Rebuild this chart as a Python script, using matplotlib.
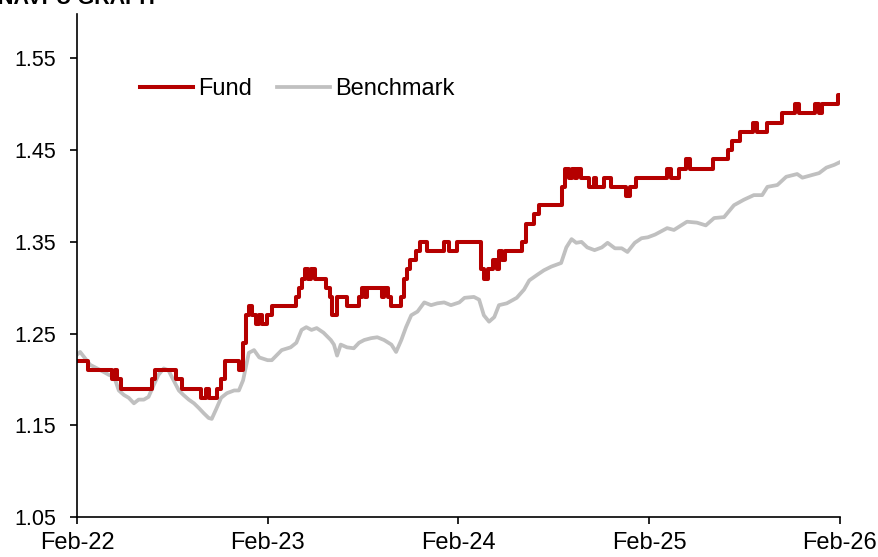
import numpy as np
import pandas as pd
import matplotlib.pyplot as plt
import matplotlib.dates as mdates

plt.rcParams['font.family'] = ['Liberation Sans', 'DejaVu Sans']
plt.rcParams['font.size'] = 17

# Fund NAVPU (stepwise, 2 decimals)
fund_dates = ["2022-02-01", "2022-02-22", "2022-04-09", "2022-04-14", "2022-04-19", "2022-04-26",
              "2022-06-24", "2022-06-30", "2022-08-09", "2022-08-21", "2022-09-27", "2022-10-06",
              "2022-10-12", "2022-10-27", "2022-11-04", "2022-11-12", "2022-12-08", "2022-12-16",
              "2022-12-22", "2022-12-27", "2023-01-02", "2023-01-10", "2023-01-16", "2023-01-22",
              "2023-01-30", "2023-02-09", "2023-03-27", "2023-04-02", "2023-04-07", "2023-04-13",
              "2023-04-19", "2023-04-25", "2023-05-03", "2023-05-24", "2023-05-31", "2023-06-04",
              "2023-06-14", "2023-07-03", "2023-07-26", "2023-08-01", "2023-08-07", "2023-08-11",
              "2023-09-08", "2023-09-12", "2023-09-20", "2023-09-26", "2023-10-15", "2023-10-20",
              "2023-10-26", "2023-11-01", "2023-11-12", "2023-11-20", "2023-12-03", "2024-01-05",
              "2024-01-15", "2024-01-30", "2024-03-15", "2024-03-21", "2024-03-29", "2024-04-08",
              "2024-04-16", "2024-04-19", "2024-04-25", "2024-05-01", "2024-06-03", "2024-06-10",
              "2024-06-26", "2024-07-05", "2024-08-18", "2024-08-24", "2024-09-01", "2024-09-05",
              "2024-09-12", "2024-09-16", "2024-09-24", "2024-10-09", "2024-10-17", "2024-10-21",
              "2024-11-07", "2024-11-20", "2024-12-19", "2024-12-25", "2025-01-07", "2025-03-07",
              "2025-03-15", "2025-03-30", "2025-04-13", "2025-04-19", "2025-06-02", "2025-07-01",
              "2025-07-10", "2025-07-24", "2025-08-18", "2025-08-27", "2025-09-14", "2025-10-13",
              "2025-11-07", "2025-11-15", "2025-12-16", "2025-12-23", "2025-12-29", "2026-01-28",
              "2026-02-01"]
fund_values = [1.22, 1.21, 1.20, 1.21, 1.20, 1.19,
               1.20, 1.21, 1.20, 1.19, 1.18, 1.19,
               1.18, 1.19, 1.20, 1.22, 1.21, 1.24,
               1.27, 1.28, 1.27, 1.26, 1.27, 1.26,
               1.27, 1.28, 1.29, 1.30, 1.31, 1.32,
               1.31, 1.32, 1.31, 1.30, 1.29, 1.27,
               1.29, 1.28, 1.29, 1.30, 1.29, 1.30,
               1.29, 1.30, 1.29, 1.28, 1.29, 1.31,
               1.32, 1.33, 1.34, 1.35, 1.34, 1.35,
               1.34, 1.35, 1.32, 1.31, 1.32, 1.33,
               1.32, 1.34, 1.33, 1.34, 1.35, 1.37,
               1.38, 1.39, 1.41, 1.43, 1.42, 1.43,
               1.42, 1.43, 1.42, 1.41, 1.42, 1.41,
               1.42, 1.41, 1.40, 1.41, 1.42, 1.43,
               1.42, 1.43, 1.44, 1.43, 1.44, 1.45,
               1.46, 1.47, 1.48, 1.47, 1.48, 1.49,
               1.50, 1.49, 1.50, 1.49, 1.50, 1.51,
               1.51]

# Benchmark
bench_dates = ["2022-02-01", "2022-02-07", "2022-02-26", "2022-03-15", "2022-04-03", "2022-04-13",
               "2022-04-22", "2022-05-02", "2022-05-11", "2022-05-21", "2022-05-30", "2022-06-09",
               "2022-06-18", "2022-06-28", "2022-07-07", "2022-07-17", "2022-07-26", "2022-08-05",
               "2022-08-15", "2022-08-24", "2022-09-03", "2022-09-13", "2022-09-22", "2022-10-02",
               "2022-10-11", "2022-10-17", "2022-10-25", "2022-11-04", "2022-11-15", "2022-11-29",
               "2022-12-08", "2022-12-16", "2022-12-27", "2023-01-06", "2023-01-16", "2023-02-01",
               "2023-02-09", "2023-02-28", "2023-03-17", "2023-03-28", "2023-04-07", "2023-04-16",
               "2023-04-26", "2023-05-06", "2023-05-19", "2023-06-02", "2023-06-08", "2023-06-14",
               "2023-06-21", "2023-07-03", "2023-07-16", "2023-07-26", "2023-08-05", "2023-08-18",
               "2023-08-30", "2023-09-12", "2023-09-26", "2023-10-05", "2023-10-15", "2023-10-24",
               "2023-11-03", "2023-11-15", "2023-11-28", "2023-12-11", "2023-12-23", "2024-01-05",
               "2024-01-18", "2024-02-03", "2024-02-13", "2024-03-02", "2024-03-12", "2024-03-21",
               "2024-03-31", "2024-04-10", "2024-04-19", "2024-05-04", "2024-05-23", "2024-06-06",
               "2024-06-16", "2024-07-01", "2024-07-14", "2024-07-28", "2024-08-16", "2024-08-26",
               "2024-09-05", "2024-09-14", "2024-09-24", "2024-10-05", "2024-10-19", "2024-11-02",
               "2024-11-13", "2024-11-27", "2024-12-10", "2024-12-21", "2025-01-04", "2025-01-17",
               "2025-01-29", "2025-02-12", "2025-03-07", "2025-03-20", "2025-04-14", "2025-05-03",
               "2025-05-20", "2025-06-05", "2025-06-24", "2025-07-13", "2025-08-01", "2025-08-20",
               "2025-09-05", "2025-09-15", "2025-10-04", "2025-10-21", "2025-11-11", "2025-11-21",
               "2025-12-10", "2025-12-23", "2026-01-06", "2026-01-21", "2026-02-01"]
bench_values = [1.227, 1.230, 1.216, 1.211, 1.205, 1.203,
                1.188, 1.183, 1.180, 1.174, 1.178, 1.178,
                1.181, 1.194, 1.205, 1.212, 1.210, 1.199,
                1.188, 1.183, 1.178, 1.174, 1.169, 1.163,
                1.158, 1.157, 1.167, 1.180, 1.185, 1.188,
                1.188, 1.199, 1.229, 1.232, 1.224, 1.221,
                1.221, 1.232, 1.235, 1.240, 1.254, 1.257,
                1.254, 1.256, 1.251, 1.243, 1.238, 1.226,
                1.238, 1.235, 1.234, 1.240, 1.243, 1.245,
                1.246, 1.243, 1.238, 1.230, 1.243, 1.257,
                1.270, 1.274, 1.284, 1.281, 1.283, 1.284,
                1.281, 1.284, 1.289, 1.290, 1.287, 1.270,
                1.263, 1.268, 1.281, 1.283, 1.289, 1.298,
                1.308, 1.314, 1.319, 1.323, 1.327, 1.344,
                1.353, 1.349, 1.350, 1.344, 1.341, 1.344,
                1.349, 1.343, 1.343, 1.339, 1.349, 1.354,
                1.355, 1.358, 1.365, 1.363, 1.372, 1.371,
                1.368, 1.376, 1.377, 1.390, 1.396, 1.401,
                1.401, 1.410, 1.412, 1.421, 1.424, 1.420,
                1.423, 1.425, 1.431, 1.434, 1.437]

y_ticks = [1.05, 1.15, 1.25, 1.35, 1.45, 1.55]
x_ticks = ["2022-02-01", "2023-02-01", "2024-02-01", "2025-02-01", "2026-02-01"]

fund = pd.Series(fund_values, index=pd.to_datetime(fund_dates))
bench = pd.Series(bench_values, index=pd.to_datetime(bench_dates))

fig = plt.figure(figsize=(8.79, 5.57), dpi=100)
ax = fig.add_axes([77 / 879, 1 - 517 / 557, 763 / 879, 503 / 557])

ax.plot(bench.index, bench.values, color='#C0C0C0', lw=2.7, label='Benchmark')
ax.plot(fund.index, fund.values, color='#B50000', lw=2.9, drawstyle='steps-post', label='Fund')

ax.set_ylim(1.05, 1.5985)
ax.set_yticks(y_ticks)
ax.set_yticklabels([f"{v:.2f}" for v in y_ticks], fontsize=15.5)
ax.set_xlim(pd.Timestamp("2022-02-01"), pd.Timestamp("2026-02-01"))
ax.set_xticks(pd.to_datetime(x_ticks))
ax.xaxis.set_major_formatter(mdates.DateFormatter('%b-%y'))

ax.spines['top'].set_visible(False)
ax.spines['right'].set_visible(False)
ax.spines['left'].set_linewidth(1.2)
ax.spines['bottom'].set_linewidth(1.2)
ax.tick_params(axis='both', direction='out', length=5, width=1.2)
ax.tick_params(axis='x', pad=6)
ax.tick_params(axis='y', pad=10)

handles, labels = ax.get_legend_handles_labels()
ax.legend(handles[::-1], labels[::-1], loc='center left', bbox_to_anchor=(0.083, 0.851),
          ncol=2, frameon=False, handlelength=2.25, handletextpad=0.2,
          columnspacing=1.05, borderpad=0, borderaxespad=0, fontsize=17)

fig.text(-0.002, 1 - 4 / 557, "NAVPU GRAPH", fontsize=15.5, fontweight='bold',
         ha='left', va='baseline')

fig.savefig('out.png', dpi=100)
